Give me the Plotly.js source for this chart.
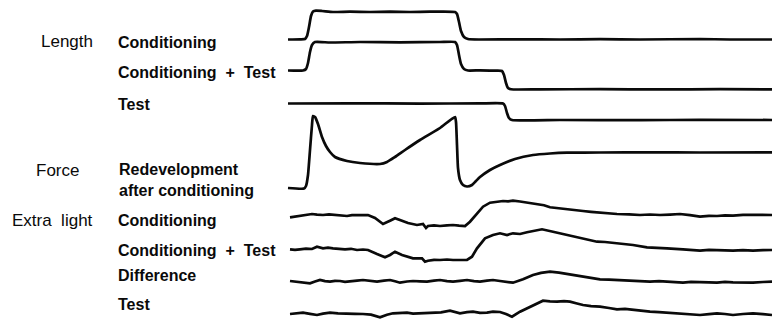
<!DOCTYPE html>
<html>
<head>
<meta charset="utf-8">
<script src="https://cdn.plot.ly/plotly-3.0.1.min.js"></script>
<style>html,body{margin:0;padding:0;background:#fff;}#chart{width:772px;height:321px;}</style>
</head>
<body>
<div id="chart"></div>
<script>
// ---- Data (time in ms-like units from start of record; amplitude relative to each trace baseline, up = positive) ----
const lenCondT = [-1, 11, 16, 18, 20, 22, 24, 27, 33, 44, 61, 81, 101, 121, 141, 166, 168, 170, 172, 175, 179, 191, 231, 271, 311, 351, 411, 441, 483];
const lenCondV = [0, 0.2, 0.5, 3.5, 12.5, 23.5, 28, 28.8, 28.5, 27.5, 27.8, 27.5, 27.8, 27.5, 27.8, 27.5, 25.5, 17.5, 8.5, 2.5, 0.5, 0, 0.2, 0, 0.3, 0, 0.5, 0, 0];

const lenCTT = [-1, 14, 17, 19, 21, 23, 26, 41, 71, 111, 151, 166, 168, 170, 172, 175, 179, 191, 206, 213, 215, 217, 219, 222, 251, 311, 371, 431, 483];
const lenCTV = [0, 0, 1.5, 7.5, 18.5, 25.5, 28.5, 28, 28.5, 28.2, 28.5, 28.5, 25.5, 15.5, 6.5, 1.5, 0, 0.2, -0.2, -0.5, -4.5, -12.5, -17.5, -18.8, -18.8, -18.7, -18.9, -18.7, -18.8];

const lenTestT = [-1, 61, 131, 191, 214, 216, 218, 220, 223, 271, 351, 411, 483];
const lenTestV = [0, 0.2, -0.1, 0.1, 0, -2.5, -9.5, -14.5, -16.5, -16.5, -16.7, -16.3, -16.5];

const forceT = [-1, 15, 17, 19, 21, 23, 24, 26, 29, 33, 37, 41, 46, 58, 71, 91, 98, 106, 116, 131, 151, 166, 167, 168, 169, 171, 174, 178, 183, 187, 191, 201, 211, 226, 244, 261, 278, 311, 361, 411, 483];
const forceV = [0.5, 0, 2.5, 13.5, 38.5, 63.5, 72.5, 71.5, 64.5, 51.5, 42.5, 36.5, 31.5, 27.5, 25.5, 24.5, 26.5, 31.5, 38.5, 48.5, 60.5, 71.5, 66.5, 43.5, 20.5, 8.5, 3.5, 2, 3.5, 7.5, 11.5, 18.5, 23.5, 29.5, 33.5, 35, 35.8, 36, 36.2, 36, 36.2];

const elCondT = [1, 6, 11, 17, 23, 28, 34, 40, 46, 52, 58, 63, 68, 74, 79, 86, 94, 101, 106, 113, 119, 128, 134, 137, 139, 145, 151, 158, 164, 170, 176, 181, 188, 194, 201, 207, 214, 219, 224, 231, 238, 248, 255, 261, 270, 278, 286, 294, 302, 311, 320, 328, 340, 351, 361, 371, 381, 391, 401, 411, 420, 428, 436, 444, 454, 464, 474, 483];
const elCondV = [-1.3, -0.5, 0.3, 1.2, 2, 1.3, 1, 1.6, 1, 0.4, 0, 0.8, 0.7, 1.3, 1, -2, -8, -4.7, -2.3, -4.7, -7, -9, -8, -12, -10, -9.4, -10, -9.3, -9, -9.6, -10, -5.7, 2.7, 9.3, 13.3, 14.4, 15, 14.6, 15.3, 14.5, 13.3, 12, 10.8, 8.7, 7.5, 6.7, 5.6, 5, 4.2, 3.3, 2.6, 2, 1.6, 1, 1.5, 1, 1.4, 2, 0.8, -0.7, 0.2, 0, 0.7, 0.3, 1.1, 1, 0.5, 1];

const elCTT = [1, 6, 11, 17, 23, 28, 34, 39, 44, 50, 56, 62, 68, 74, 79, 88, 96, 101, 106, 113, 119, 124, 133, 136, 139, 145, 151, 158, 164, 171, 178, 183, 188, 196, 204, 211, 218, 224, 231, 238, 245, 253, 264, 278, 286, 294, 308, 316, 324, 334, 344, 358, 368, 378, 394, 402, 411, 420, 428, 436, 444, 454, 464, 474, 483];
const elCTV = [0.2, -0.3, 0.2, 0.8, 0.5, 2.8, 1.2, 1.8, 1.2, 0.6, 0.2, 0.7, -0.5, 0, -0.5, -4.5, -7.8, -5.5, -2.2, -5.5, -7.2, -8.8, -8.8, -12.2, -11.2, -10.3, -10.5, -10, -10.5, -10.2, -10.5, -7.2, 1.2, 11.2, 14.5, 16.2, 14.5, 16.2, 15.5, 17.2, 18.5, 20.2, 17.8, 14.5, 12.8, 11.2, 7.8, 7.5, 6.8, 5.2, 4.5, 2.2, 2, 1.2, 0.2, -0.6, -1.2, -0.4, -0.5, -1.3, -1.2, -0.6, -1.2, -0.7, -0.5];

const diffT = [1, 6, 11, 16, 21, 26, 31, 36, 41, 46, 51, 56, 61, 68, 74, 81, 88, 95, 101, 106, 111, 118, 124, 131, 138, 145, 151, 158, 164, 171, 178, 185, 191, 198, 204, 211, 218, 224, 234, 244, 252, 261, 270, 278, 286, 294, 302, 311, 320, 328, 336, 344, 352, 361, 370, 378, 386, 394, 402, 411, 420, 428, 436, 444, 454, 464, 474, 483];
const diffV = [0.5, 0, -0.2, -0.8, -1.8, 0, 1.5, 0.4, -0.2, 0.6, 0.5, -0.4, -0.2, 0.8, 1.5, 0.3, -0.2, 0.9, 1.5, 0.2, -1.2, 0, 0.5, 0.1, -0.2, 0.8, 1.5, 0.4, -0.2, 0.7, 1.5, 0.3, -0.2, 0.8, 1.5, 0.5, -0.2, -1.2, 2.2, 6.5, 8.6, 9.8, 8.8, 7.5, 6.4, 5.5, 3.6, 2.2, 1.8, 1.5, 0.6, 0.8, 0.2, -0.2, 0.4, -0.2, -0.9, -1.2, -0.3, -0.2, -0.8, -1.2, -0.4, -0.8, -1.0, -1.2, -0.5, -0.2];

const elTestT = [1, 7, 14, 21, 28, 34, 41, 49, 58, 66, 74, 82, 91, 98, 104, 111, 118, 124, 131, 138, 144, 152, 161, 166, 171, 178, 184, 191, 198, 204, 211, 217, 223, 231, 241, 248, 254, 261, 268, 275, 281, 288, 294, 302, 311, 320, 328, 336, 344, 352, 361, 370, 378, 386, 394, 402, 411, 420, 428, 436, 444, 454, 464, 474, 483];
const elTestV = [-0.5, 0.2, 0.8, -0.3, -1.5, -0.2, 0.8, 0.1, 0.2, -0.4, -0.5, -1.2, -3.8, -1.2, 0.2, 0.5, 0.8, -0.1, 0.2, 0.9, 1.5, 1.1, 2.8, 1.2, 0.2, 1.3, 1.8, 0.6, 0.8, 1.8, 1.5, -0.6, -3.2, 1.8, 6.8, 10.5, 12.8, 12.2, 11.8, 12.4, 11.8, 10, 8.5, 7.3, 6.8, 5.5, 4.2, 4.6, 3.5, 2.4, 1.8, 1.3, 0.8, 0.1, 0.2, -0.6, -1.5, -0.6, 0.2, -0.5, -1.5, -0.5, 0.2, -0.6, -1.5];

const colLabels = ["Length", "Force", "Extra\u00a0\u00a0light"];
const traceLabels = ["Conditioning", "Conditioning\u00a0\u00a0+\u00a0\u00a0Test", "Test", "Redevelopment<br>after conditioning", "Conditioning", "Conditioning\u00a0\u00a0+\u00a0\u00a0Test", "Difference", "Test"];

// ---- Layout / positions (pixels from top of the figure) ----
const W = 772, H = 321, X0 = 289;
const baselines = [39.5, 70.5, 103.5, 188.5, 216, 249.5, 281.5, 313.5];
const series = [
  [lenCondT, lenCondV, 'spline'],
  [lenCTT, lenCTV, 'spline'],
  [lenTestT, lenTestV, 'spline'],
  [forceT, forceV, 'spline'],
  [elCondT, elCondV, 'linear'],
  [elCTT, elCTV, 'linear'],
  [diffT, diffV, 'linear'],
  [elTestT, elTestV, 'linear']
];

const traces = series.map((s, i) => ({
  type: 'scatter', mode: 'lines',
  x: s[0],
  y: s[1],
  yaxis: 'y' + (i === 0 ? '' : (i + 1)),
  line: {color: '#0a0a0a', width: 2.7, shape: s[2], smoothing: 0.5},
  hoverinfo: 'skip', showlegend: false
}));

const layout = {
  width: W, height: H,
  margin: {l: 0, r: 0, t: 0, b: 0},
  paper_bgcolor: '#fff', plot_bgcolor: '#fff',
  showlegend: false,
  xaxis: {range: [-X0, W - X0], visible: false, fixedrange: true},
  annotations: []
};
// each trace gets an overlaying axis with 1 unit = 1 px, baseline placed at its row
baselines.forEach((b, i) => {
  const key = 'yaxis' + (i === 0 ? '' : (i + 1));
  const ax = {range: [-(H - b), b], visible: false, fixedrange: true};
  if (i > 0) ax.overlaying = 'y';
  layout[key] = ax;
});

const labelFontA = {family: 'Liberation Sans, Arial, sans-serif', size: 17, color: '#0a0a0a'};
const labelFontB = {family: 'Liberation Sans, Arial, sans-serif', size: 16, color: '#0a0a0a', weight: 'bold'};
const colPos = [[39, 41.5], [34, 171], [10, 220]];
colLabels.forEach((t, i) => layout.annotations.push({
  text: t, xref: 'paper', yref: 'paper', x: colPos[i][0] / W, y: 1 - colPos[i][1] / H,
  xanchor: 'left', yanchor: 'middle', showarrow: false, font: labelFontA, align: 'left'
}));
const labPos = [[116, 42], [116, 72], [116, 104.5], [117, 180], [116, 220], [116, 250], [116, 275.5], [116, 304]];
traceLabels.forEach((t, i) => layout.annotations.push({
  text: t, xref: 'paper', yref: 'paper', x: labPos[i][0] / W, y: 1 - labPos[i][1] / H,
  xanchor: 'left', yanchor: 'middle', showarrow: false, font: labelFontB, align: 'left'
}));

Plotly.newPlot('chart', traces, layout, {staticPlot: true, displayModeBar: false});
</script>
</body>
</html>
